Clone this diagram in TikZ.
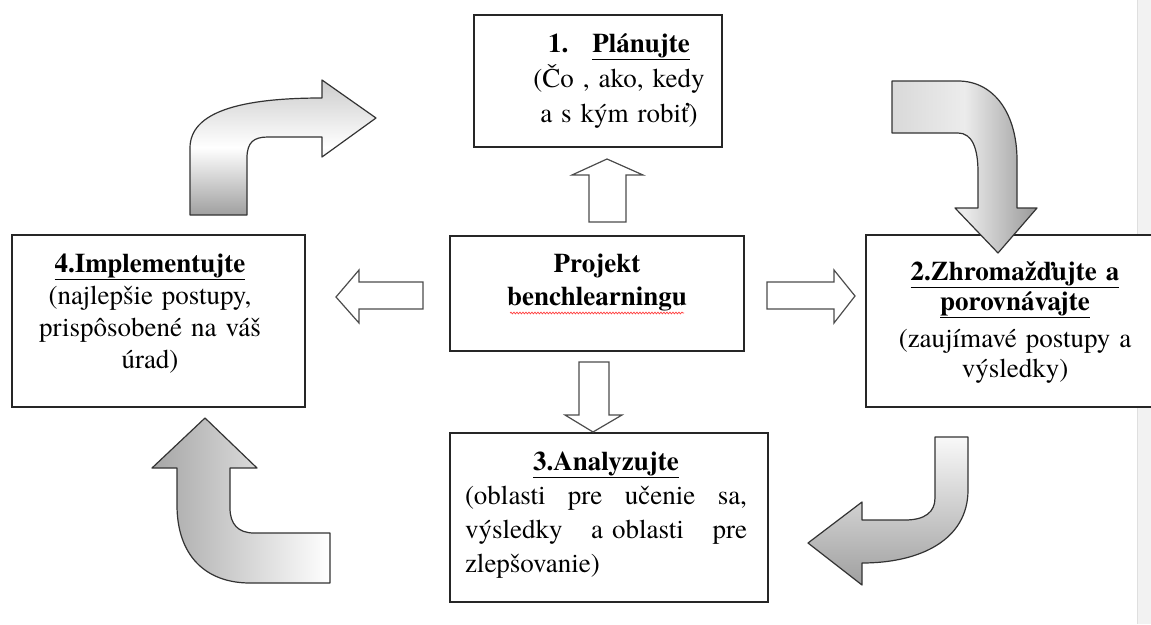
\documentclass[tikz,border=0pt]{standalone}
\usepackage{fontspec}
\setmainfont{TeX Gyre Termes}
\usetikzlibrary{decorations.pathmorphing}

\begin{document}
\begin{tikzpicture}[
		x=1pt, y=-1pt, % pixel-like coordinates, y pointing down
		box/.style={draw=black!85, line width=1.6pt, fill=white, inner sep=0pt},
		boxtext/.style={text width=#1, align=center, inner sep=0pt, anchor=base},
		hollow/.style={draw=black!70, line width=1.2pt, fill=white, line join=miter},
		bent/.style={draw=black!80, line width=1.2pt, line join=round},
		]
		
		% --- 0. Canvas and page edge ---
		\clip (0,0) rectangle (1151,624);
		\fill[white] (0,0) rectangle (1151,624);
		\fill[gray!10] (1137,0) rectangle (1151,624);
		\draw[gray!25, line width=0.8pt] (1137,0) -- (1137,624);
		
		% --- 1. The five boxes ---
		\node[box, minimum width=248, minimum height=132] (plan) at (598,81) {};
		\node[box, minimum width=294, minimum height=115] (proj) at (597,293.5) {};
		\node[box, minimum width=293, minimum height=172] (impl) at (158.5,321) {};
		\node[box, minimum width=289, minimum height=172] (zber) at (1010.5,321) {};
		\node[box, minimum width=318, minimum height=169] (anal) at (609,517.5) {};
		
		% --- 2. Texts ---
		\node[boxtext=240pt, font=\fontsize{27}{35}\selectfont] (plantxt) at (619,52)
		{\textbf{1.\hspace{24pt}\underline{Plánujte}}\\(Čo , ako, kedy\\a s kým robiť)};
		
		\node[boxtext=280pt, font=\fontsize{27}{33}\selectfont\bfseries] (projtxt) at (597,272)
		{Projekt\\benchlearningu};
		\draw[red!75, line width=0.7pt, decorate,
		decoration={snake, amplitude=0.9pt, segment length=3pt}] (510,313) -- (684,313);
		
		\node[boxtext=280pt, font=\fontsize{27}{32}\selectfont] (impltxt) at (150,272)
		{\textbf{\underline{4.Implementujte}}\\(najlepšie postupy,\\prispôsobené na váš\\úrad)};
		
		\node[boxtext=270pt, font=\fontsize{27}{30}\selectfont] (zbertxt) at (1015,280)
		{\textbf{\underline{2.Zhromažďujte a}}\\\textbf{\underline{porovnávajte}}\\[7pt](zaujímavé postupy a\\výsledky)};
		
		\node[boxtext=282pt, align=left, font=\fontsize{27}{34}\selectfont] (analtxt) at (606,470)
		{\makebox[282pt]{\textbf{\underline{3.Analyzujte}}}\\
			\makebox[282pt]{(oblasti\hfill pre\hfill učenie\hfill sa,}\\
			\makebox[282pt]{výsledky\hfill a oblasti\hfill pre}\\
			zlepšovanie)};
		
		% --- 3. Hollow arrows out of the project box ---
		% up, to Plan
		\draw[hollow] (589,222) -- (589,175) -- (572,175) -- (607,159) -- (643,175)
		-- (626,175) -- (626,222) -- cycle;
		% left, to Implement
		\draw[hollow] (423,282) -- (359,282) -- (359,270) -- (336,297) -- (359,323)
		-- (359,309) -- (423,309) -- cycle;
		% right, to Gather
		\draw[hollow] (767,282) -- (834,282) -- (834,270) -- (855,296) -- (834,323)
		-- (834,309) -- (767,309) -- cycle;
		% down, to Analyse
		\draw[hollow] (579,362) -- (609,362) -- (609,415) -- (622,415) -- (593,432)
		-- (565,415) -- (579,415) -- cycle;
		
		% --- 4. Shaded bent arrows of the cycle ---
		% 4 -> 1
		\shadedraw[bent, top color=gray!40, bottom color=gray!75, middle color=white]
		(190,215) -- (190,148) .. controls (190,112) and (240,98) .. (322,98)
		-- (322,80) -- (376,118) -- (322,157) -- (322,137) -- (268,137)
		.. controls (254,137) and (247,142) .. (247,158) -- (247,215) -- cycle;
		
		% 1 -> 2
		\shadedraw[bent, left color=gray!30, right color=gray!80, middle color=white!85!gray]
		(892,81) -- (958,81) .. controls (995,81) and (1017,115) .. (1017,160)
		-- (1017,208) -- (1037,208) -- (998,253) -- (955,208) -- (978,208) -- (978,172)
		.. controls (978,148) and (972,133) .. (958,133) -- (892,133) -- cycle;
		
		% 2 -> 3
		\shadedraw[bent, top color=white!95!gray, bottom color=gray!75]
		(968,437) -- (968,490) .. controls (968,540) and (920,563) .. (862,563)
		-- (862,585) -- (808,543) -- (862,502) -- (862,520) -- (905,520)
		.. controls (925,520) and (935,512) .. (935,498) -- (935,437) -- cycle;
		
		% 3 -> 4
		\shadedraw[bent, left color=gray!70, right color=white]
		(330,583) -- (250,583) .. controls (205,583) and (177,555) .. (177,505)
		-- (177,468) -- (152,468) -- (205,418) -- (257,468) -- (230,468) -- (230,508)
		.. controls (230,524) and (238,533) .. (254,533) -- (330,533) -- cycle;
		
	\end{tikzpicture}
\end{document}
